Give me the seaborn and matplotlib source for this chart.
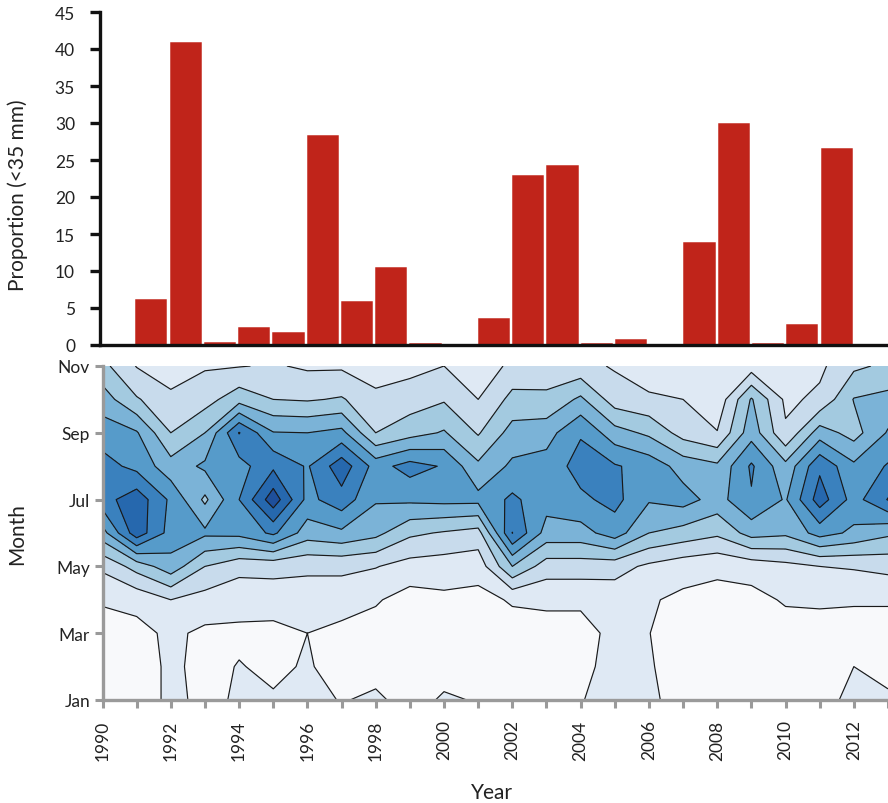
import numpy as np
import pandas as pd
import matplotlib
matplotlib.use("Agg")
import matplotlib.pyplot as plt
import seaborn as sns

# ---------------- data ----------------
bar_years = ["1990", "1991", "1992", "1993", "1994", "1995", "1996", "1997", "1998",
             "1999", "2000", "2001", "2002", "2003", "2004", "2005", "2006", "2007",
             "2008", "2009", "2010", "2011", "2012"]
bar_values = [0, 6.2, 41.0, 0.4, 2.4, 1.7, 28.4, 5.9, 10.6, 0.3, 0, 3.6, 23.0, 24.3,
              0.3, 0.85, 0.2, 13.9, 30.0, 0.3, 2.8, 26.6, 0]

years = [1990, 1991, 1992, 1993, 1994, 1995, 1996, 1997, 1998, 1999, 2000, 2001,
         2002, 2003, 2004, 2005, 2006, 2007, 2008, 2009, 2010, 2011, 2012, 2013]
months = [1, 2, 3, 4, 5, 6, 7, 8, 9, 10, 11]
month_ticks = [1, 3, 5, 7, 9, 11]
month_labels = ["Jan", "Mar", "May", "Jul", "Sep", "Nov"]

# contour values (one row per month, one value per year 1990..2013)
jan = [0.6, 0.5, 1.2, 0.8, 1.1, 1.1, 1.3, 0.95, 1.15, 0.7, 1.1, 0.95, 0.7, 0.7, 0.95, 1.4, 1.2, 0.6, 0.5, 0.5, 0.6, 0.6, 1.3, 1.1]
feb = [0.6, 0.5, 1.2, 0.7, 1.05, 0.8, 1.1, 0.6, 0.7, 0.6, 0.7, 0.7, 0.6, 0.6, 0.7, 1.4, 1.1, 0.5, 0.5, 0.5, 0.5, 0.5, 1.0, 0.8]
mar = [0.6, 0.7, 1.2, 0.8, 0.8, 0.7, 1.0, 0.7, 0.6, 0.5, 0.6, 0.6, 0.6, 0.6, 0.6, 1.3, 1.02, 0.5, 0.5, 0.6, 0.6, 0.6, 0.6, 0.6]
apr = [1.1, 1.3, 2.0, 1.6, 1.4, 1.5, 1.5, 1.5, 1.1, 0.6, 0.8, 0.7, 1.1, 1.2, 1.2, 1.4, 1.1, 0.8, 0.7, 0.7, 1.1, 1.15, 1.1, 1.1]
may = [2.2, 3.4, 4.6, 3.0, 2.3, 2.3, 2.2, 2.2, 2.05, 1.6, 1.5, 1.4, 4.0, 2.5, 2.5, 2.4, 1.8, 1.4, 1.2, 1.4, 1.7, 2.0, 2.1, 2.3]
jun = [4.6, 7.6, 5.6, 5.2, 5.3, 6.2, 4.5, 4.8, 4.3, 3.2, 2.9, 2.6, 7.02, 4.6, 4.6, 5.5, 4.0, 3.6, 3.2, 4.4, 4.2, 5.4, 4.8, 4.2]
jul = [6.6, 7.6, 5.8, 3.8, 6.0, 8.6, 5.7, 6.6, 5.1, 5.2, 5.3, 5.3, 6.2, 5.4, 5.8, 6.3, 5.1, 5.4, 4.6, 5.9, 4.9, 7.5, 5.6, 7.05]
aug = [6.4, 5.7, 4.4, 5.2, 5.6, 6.8, 5.9, 7.6, 5.6, 6.4, 5.9, 4.2, 5.2, 5.4, 6.4, 6.1, 5.6, 4.6, 4.2, 6.15, 4.3, 6.8, 5.2, 6.1]
sep = [5.5, 5.1, 3.0, 4.0, 7.05, 5.05, 5.0, 5.3, 3.0, 3.6, 4.1, 2.9, 4.4, 4.6, 5.9, 4.4, 3.8, 2.6, 2.05, 4.6, 2.15, 4.5, 3.6, 5.1]
oct_ = [4.5, 3.1, 2.3, 2.6, 3.6, 3.0, 2.9, 3.1, 2.3, 2.5, 2.9, 2.0, 3.3, 3.2, 4.2, 2.5, 2.2, 2.0, 1.3, 4.1, 1.8, 2.2, 4.05, 4.3]
nov = [3.3, 1.95, 1.3, 1.9, 1.95, 2.1, 1.85, 1.85, 1.4, 1.7, 2.0, 1.2, 2.3, 2.5, 2.3, 1.9, 1.3, 1.2, 1.2, 1.5, 1.5, 1.8, 2.8, 3.2]

band_levels = [0, 1, 2, 3, 4, 5, 6, 7, 8, 9]
line_levels = [1, 2, 3, 4, 5, 6, 7, 8]
band_colors = ["#f8f9fb", "#dfe9f4", "#c8dbec", "#a3cae0", "#7bb3d7",
               "#569bca", "#3a81be", "#2668ae", "#1e4f9b"]

# ---------------- style ----------------
sns.set_theme(style="white")
plt.rcParams["font.family"] = ["Lato", "DejaVu Sans"]
text_color = "#222222"

W, H = 888, 804
fig = plt.figure(figsize=(W / 100, H / 100), dpi=100)

# ---------------- bar chart ----------------
ax1 = fig.add_axes([100 / W, 1 - 346 / H, 788 / W, 333 / H])
df_bar = pd.DataFrame({"Year": bar_years, "Proportion": bar_values})
sns.barplot(data=df_bar, x="Year", y="Proportion", order=bar_years, ax=ax1,
            color="#c0241a", saturation=1, width=0.94,
            edgecolor="white", linewidth=0.35)
ax1.set_xlim(-0.5, len(bar_years) - 0.5)
ax1.set_ylim(0, 45)
ax1.set_yticks([0, 5, 10, 15, 20, 25, 30, 35, 40, 45])
ax1.set_xticks([])
ax1.set_xlabel("")
ax1.tick_params(axis="y", length=7, width=2.4, color="#111111", pad=11,
                labelsize=12.5, labelcolor=text_color, left=True)
for s in ["top", "right"]:
    ax1.spines[s].set_visible(False)
for s in ["left", "bottom"]:
    ax1.spines[s].set_linewidth(2.4)
    ax1.spines[s].set_color("#111111")
ax1.set_ylabel("Proportion (<35 mm)", fontsize=15, color=text_color)
ax1.yaxis.set_label_coords((28 - 100) / 788, 0.453)

# ---------------- contour chart ----------------
ax2 = fig.add_axes([102.5 / W, 1 - 701 / H, (888 - 102.5) / W, 334 / H])
Z = np.array([jan, feb, mar, apr, may, jun, jul, aug, sep, oct_, nov])
X, Y = np.meshgrid(years, months)
ax2.contourf(X, Y, Z, levels=band_levels, colors=band_colors)
ax2.contour(X, Y, Z, levels=line_levels, colors="#1a1a1a", linewidths=0.85)
ax2.set_xlim(1990, 2013)
ax2.set_ylim(1, 11)
ax2.set_xticks(years)
ax2.set_xticklabels([str(y) if y % 2 == 0 else "" for y in years], rotation=90)
ax2.set_yticks(month_ticks)
ax2.set_yticklabels(month_labels)
ax2.tick_params(axis="both", length=6, width=2.2, color="#9a9a9a",
                labelsize=12.5, labelcolor=text_color, bottom=True, left=True)
ax2.tick_params(axis="x", pad=8)
ax2.tick_params(axis="y", pad=3)
for s in ["top", "right"]:
    ax2.spines[s].set_visible(False)
for s in ["left", "bottom"]:
    ax2.spines[s].set_linewidth(2.4)
    ax2.spines[s].set_color("#9a9a9a")
ax2.set_ylabel("Month", fontsize=15, color=text_color)
ax2.yaxis.set_label_coords((27 - 102.5) / 785.5, 0.5)
ax2.set_xlabel("Year", fontsize=15, color=text_color)
ax2.xaxis.set_label_coords(0.496, -0.245)

fig.savefig("out.png", dpi=100, facecolor="white")
